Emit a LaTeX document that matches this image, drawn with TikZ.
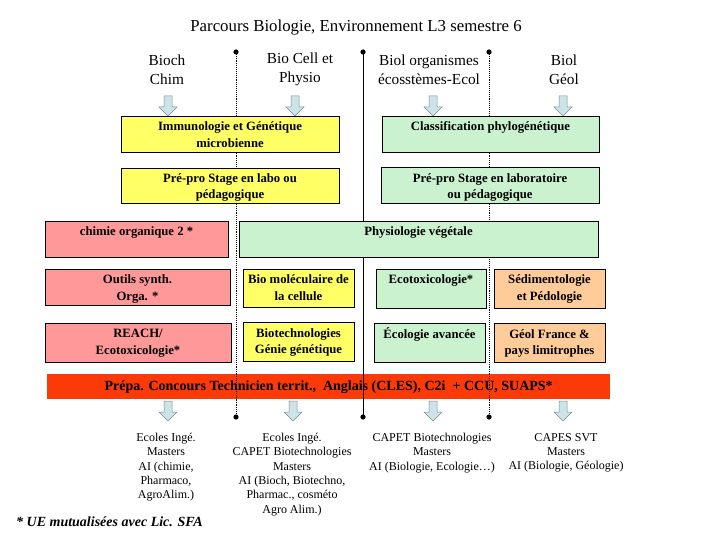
\documentclass[tikz,border=0pt]{standalone}
\usepackage{fontspec}
\setmainfont{Liberation Serif}
\definecolor{byellow}{RGB}{255,255,102}
\definecolor{bgreen}{RGB}{202,242,206}
\definecolor{bpink}{RGB}{255,153,153}
\definecolor{borange}{RGB}{255,204,153}
\definecolor{bred}{RGB}{252,58,8}
\definecolor{arrowblue}{RGB}{204,228,232}
\definecolor{arrowedge}{RGB}{120,140,150}
\begin{document}
\begin{tikzpicture}[x=1pt,y=-1pt,
  box/.style={draw=black, line width=0.7pt, anchor=north west, inner sep=0pt, outer sep=0pt},
  btxt/.style={anchor=north, align=center, inner sep=0pt, font=\bfseries\fontsize{12.7}{16.5}\selectfont},
  hdr/.style={align=center, inner sep=0pt, font=\fontsize{15.3}{19}\selectfont},
  outtxt/.style={anchor=north, align=center, inner sep=0pt, font=\fontsize{12}{14.3}\selectfont},
  dotline/.style={line width=0.9pt, densely dotted},
  solline/.style={line width=1pt},
  arrowst/.style={fill=arrowblue, draw=arrowedge, line width=0.5pt},
  pics/darr/.style={code={\draw[arrowst] (-4,0) -- (4,0) -- (4,11) -- (9,11) -- (0,20) -- (-9,11) -- (-4,11) -- cycle;}}
]
\useasboundingbox (0,0) rectangle (720,540);

% title
\node[inner sep=0pt, font=\fontsize{16.8}{19}\selectfont] (title) at (356,27) {Parcours Biologie, Environnement L3 semestre 6};

% divider lines
\coordinate (l1t) at (236,52); \coordinate (l1b) at (236,417);
\coordinate (l2t) at (363,52); \coordinate (l2b) at (363,417);
\coordinate (l3t) at (489,52); \coordinate (l3b) at (489,417);
\draw[dotline] (l1t) -- (l1b);
\draw[solline] (l2t) -- (l2b);
\draw[dotline] (l3t) -- (l3b);
\foreach \p in {l1t,l1b,l2t,l2b,l3t,l3b} \fill (\p) circle (2.6pt);

% headers
\node[hdr] (h1) at (167,69.5) {Bioch\\Chim};
\node[hdr] (h2) at (300,69.5) {Bio Cell et\\Physio};
\node[hdr] (h3) at (429,69.5) {Biol organismes\\écosstèmes-Ecol};
\node[hdr] (h4) at (564,69.5) {Biol\\Géol};

% top arrows
\pic (ta1) at (168,96) {darr};
\pic (ta2) at (295,96) {darr};
\pic (ta3) at (433,96) {darr};
\pic (ta4) at (563,96) {darr};

% row 1
\node[box, fill=byellow, minimum width=218pt, minimum height=36pt] (immuno) at (121,116) {};
\node[btxt] (immunot) at ([yshift=-5.5pt]immuno.north) {Immunologie et Génétique\\microbienne};
\node[box, fill=bgreen, minimum width=217pt, minimum height=36pt] (classif) at (382,116) {};
\node[btxt] (classift) at ([yshift=-5.5pt]classif.north) {Classification phylogénétique};

% row 2
\node[box, fill=byellow, minimum width=218pt, minimum height=35pt] (prepro1) at (121,168) {};
\node[btxt] (prepro1t) at ([yshift=-5pt]prepro1.north) {Pré-pro Stage en labo ou\\pédagogique};
\node[box, fill=bgreen, minimum width=218pt, minimum height=36pt] (prepro2) at (381,167) {};
\node[btxt] (prepro2t) at ([yshift=-6pt]prepro2.north) {Pré-pro Stage en laboratoire\\ou pédagogique};

% row 3
\node[box, fill=bpink, minimum width=183pt, minimum height=36pt] (chimie) at (45,221) {};
\node[btxt] (chimiet) at ([yshift=-5.5pt]chimie.north) {chimie organique 2 *};
\node[box, fill=bgreen, minimum width=359pt, minimum height=36pt] (physio) at (239,221) {};
\node[btxt] (physiot) at ([yshift=-5.5pt]physio.north) {Physiologie végétale};

% row 4
\node[box, fill=bpink, minimum width=185pt, minimum height=36pt] (outils) at (45,269) {};
\node[btxt] (outilst) at ([yshift=-5.5pt]outils.north) {Outils synth.\\Orga. *};
\node[box, fill=byellow, minimum width=111pt, minimum height=38pt] (biomol) at (243,269) {};
\node[btxt] (biomolt) at ([yshift=-5.5pt]biomol.north) {Bio moléculaire de\\la cellule};
\node[box, fill=bgreen, minimum width=110pt, minimum height=39pt] (ecotox) at (376,269) {};
\node[btxt] (ecotoxt) at ([yshift=-5.5pt]ecotox.north) {Ecotoxicologie*};
\node[box, fill=borange, minimum width=111pt, minimum height=39pt] (sedim) at (494,269) {};
\node[btxt] (sedimt) at ([yshift=-5.5pt]sedim.north) {Sédimentologie\\et Pédologie};

% row 5
\node[box, fill=bpink, minimum width=186pt, minimum height=39pt] (reach) at (45,323) {};
\node[btxt] (reacht) at ([yshift=-6pt]reach.north) {REACH/\\Ecotoxicologie*};
\node[box, fill=byellow, minimum width=111pt, minimum height=39pt] (biotech) at (243,322) {};
\node[btxt] (biotecht) at ([yshift=-6pt]biotech.north) {Biotechnologies\\Génie génétique};
\node[box, fill=bgreen, minimum width=111pt, minimum height=39pt] (ecoav) at (374,323) {};
\node[btxt] (ecoavt) at ([yshift=-4.5pt]ecoav.north) {Écologie avancée};
\node[box, fill=borange, minimum width=111pt, minimum height=39pt] (geol) at (494,323) {};
\node[btxt] (geolt) at ([yshift=-6pt]geol.north) {Géol France \&\\pays limitrophes};

% red band
\node[anchor=north west, fill=bred, inner sep=0pt, minimum width=563pt, minimum height=25pt] (band) at (47,374) {};
\draw[dotline] (l1t |- band.north) -- (l1t |- band.south);
\draw[solline] (l2t |- band.north) -- (l2t |- band.south);
\draw[dotline] (l3t |- band.north) -- (l3t |- band.south);
\node[inner sep=0pt, font=\bfseries\fontsize{14}{16}\selectfont] (bandt) at (band.center) {Prépa. Concours Technicien territ.,\ \ Anglais (CLES), C2i\ \ + CCU, SUAPS*};

% bottom arrows
\pic (ba1) at (168,401) {darr};
\pic (ba2) at (293,401) {darr};
\pic (ba3) at (433,401) {darr};
\pic (ba4) at (563,401) {darr};

% outcomes
\node[outtxt] (o1) at (166,433) {Ecoles Ingé.\\Masters\\AI (chimie,\\Pharmaco,\\AgroAlim.)};
\node[outtxt] (o2) at (292,433) {Ecoles Ingé.\\CAPET Biotechnologies\\Masters\\AI (Bioch, Biotechno,\\Pharmac., cosméto\\Agro Alim.)};
\node[outtxt] (o3) at (432,433) {CAPET Biotechnologies\\Masters\\AI (Biologie, Ecologie…)};
\node[outtxt] (o4) at (566,433) {CAPES SVT\\Masters\\AI (Biologie, Géologie)};

% footnote
\node[anchor=west, inner sep=0pt, font=\bfseries\itshape\fontsize{14}{16}\selectfont] (foot) at (16,522) {* UE mutualisées avec Lic. SFA};
\end{tikzpicture}
\end{document}
